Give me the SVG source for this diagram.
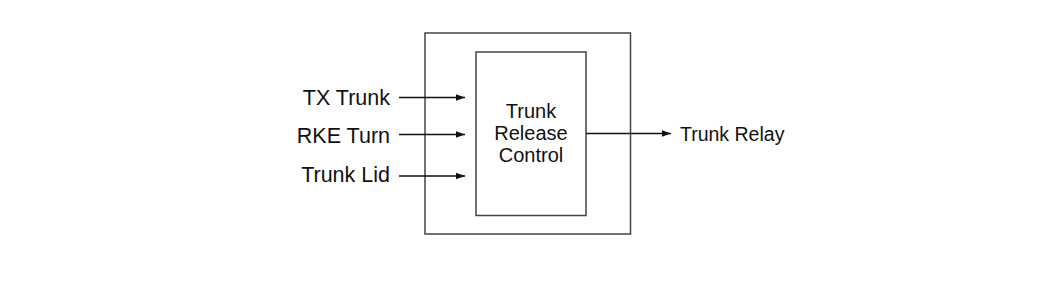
<svg xmlns="http://www.w3.org/2000/svg" width="1050" height="282" viewBox="0 0 1050 282">
<style>
.box{fill:#fff;stroke:#444;stroke-width:1.5}
.t{font-family:"Liberation Sans",Arial,sans-serif;font-size:21.5px;fill:#111}
.r{font-size:19.5px}
.i{font-size:20px}
.c{stroke:#111;stroke-width:1.3;fill:none;marker-end:url(#ah)}
</style>
<defs>
<marker id="ah" markerUnits="userSpaceOnUse" markerWidth="10" markerHeight="8" refX="9" refY="4" orient="auto">
<path d="M0,0.8 L9,4 L0,7.2 Z" fill="#111"/>
</marker>
</defs>
<rect width="1050" height="282" fill="#fff"/>
<g id="outer"><rect class="box" x="425" y="33" width="205.5" height="201"/></g>
<g id="trc">
<rect class="box" x="476" y="52" width="110" height="163.5"/>
<text class="t i" text-anchor="middle" x="531" y="118">Trunk</text>
<text class="t i" text-anchor="middle" x="531" y="140">Release</text>
<text class="t i" text-anchor="middle" x="531" y="162">Control</text>
</g>
<g id="in1"><text class="t" text-anchor="end" x="390" y="105">TX Trunk</text></g>
<g id="in2"><text class="t" text-anchor="end" x="390" y="143">RKE Turn</text></g>
<g id="in3"><text class="t" text-anchor="end" x="390" y="182">Trunk Lid</text></g>
<g id="out"><text class="t r" x="680" y="141">Trunk Relay</text></g>
<g id="connectors">
<line class="c" x1="399" y1="97.5" x2="465" y2="97.5"/>
<line class="c" x1="399" y1="134.5" x2="465" y2="134.5"/>
<line class="c" x1="399" y1="176" x2="465" y2="176"/>
<line class="c" x1="586" y1="133.5" x2="671" y2="133.5"/>
</g>
</svg>
